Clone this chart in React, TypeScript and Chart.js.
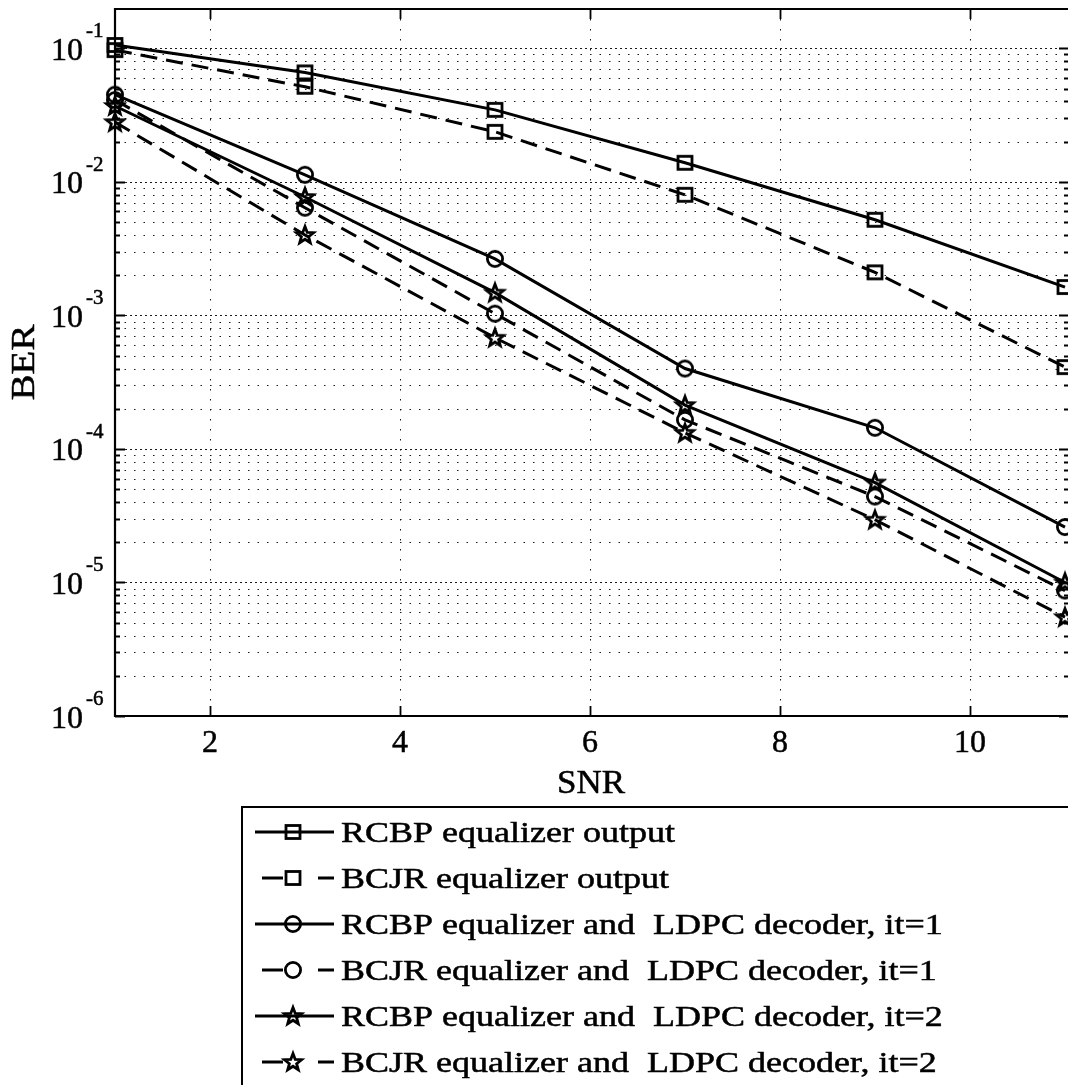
import React, { useEffect, useRef } from 'react';
import { Chart, registerables } from 'chart.js';

Chart.register(...registerables);

// ---- data ----
const snr = [1, 3, 5, 7, 9, 11];
const rcbpOutput = [0.106, 0.066, 0.0346, 0.0139, 0.0052, 0.00163];
const bcjrOutput = [0.097, 0.0515, 0.0237, 0.008, 0.0021, 0.00041];
const rcbpLdpcIt1 = [0.045, 0.0113, 0.00265, 0.0004, 0.000144, 0.000026];
const bcjrLdpcIt1 = [0.041, 0.0064, 0.00103, 0.000165, 0.000044, 0.0000087];
const rcbpLdpcIt2 = [0.037, 0.0077, 0.00148, 0.000213, 0.000056, 0.00001];
const bcjrLdpcIt2 = [0.028, 0.004, 0.00068, 0.000132, 0.0000295, 0.0000055];
const seriesLabels = [
  'RCBP equalizer output',
  'BCJR equalizer output',
  'RCBP equalizer and  LDPC decoder, it=1',
  'BCJR equalizer and  LDPC decoder, it=1',
  'RCBP equalizer and  LDPC decoder, it=2',
  'BCJR equalizer and  LDPC decoder, it=2',
];
const seriesMarkers = ['square', 'square', 'circle', 'circle', 'star', 'star'];
const seriesDashed = [false, true, false, true, false, true];
const xTickValues = [2, 4, 6, 8, 10];
const yDecadeExponents = [-6, -5, -4, -3, -2, -1];
const xAxisTitle = 'SNR';
const yAxisTitle = 'BER';

const SERIF = "'Liberation Serif', 'Times New Roman', 'DejaVu Serif', serif";
const DASH = [17, 9];

function makeMarker(kind: string): HTMLCanvasElement {
  const size = 26;
  const c = document.createElement('canvas');
  c.width = size;
  c.height = size;
  const ctx = c.getContext('2d')!;
  ctx.strokeStyle = '#000';
  ctx.lineWidth = 2.8;
  const cx = size / 2;
  const cy = size / 2;
  if (kind === 'square') {
    ctx.strokeRect(cx - 7, cy - 6.5, 14, 13);
  } else if (kind === 'circle') {
    ctx.beginPath();
    ctx.arc(cx, cy, 7.6, 0, Math.PI * 2);
    ctx.stroke();
  } else {
    ctx.lineJoin = 'miter';
    ctx.lineWidth = 2.8;
    ctx.beginPath();
    for (let i = 0; i < 10; i++) {
      const a = -Math.PI / 2 + (i * Math.PI) / 5;
      const r = i % 2 === 0 ? 9 : 3.8;
      const px = cx + r * Math.cos(a);
      const py = cy + 0.5 + r * Math.sin(a);
      if (i === 0) ctx.moveTo(px, py);
      else ctx.lineTo(px, py);
    }
    ctx.closePath();
    ctx.stroke();
  }
  return c;
}

function boldText(ctx: CanvasRenderingContext2D, text: string, x: number, y: number) {
  ctx.fillText(text, x, y);
  ctx.lineWidth = 0.5;
  ctx.strokeStyle = '#000';
  ctx.strokeText(text, x, y);
}

export default function App() {
  const ref = useRef<HTMLCanvasElement | null>(null);

  useEffect(() => {
    if (!ref.current) return;
    const markers: Record<string, HTMLCanvasElement> = {
      square: makeMarker('square'),
      circle: makeMarker('circle'),
      star: makeMarker('star'),
    };
    const allSeries = [rcbpOutput, bcjrOutput, rcbpLdpcIt1, bcjrLdpcIt1, rcbpLdpcIt2, bcjrLdpcIt2];

    const datasets = allSeries.map((vals, i) => ({
      label: seriesLabels[i],
      data: vals.map((v, j) => ({ x: snr[j], y: v })),
      borderColor: '#000',
      backgroundColor: 'rgba(0,0,0,0)',
      borderWidth: 3,
      borderDash: seriesDashed[i] ? DASH : [],
      pointStyle: markers[seriesMarkers[i]] as any,
      pointRadius: 8,
      tension: 0,
      fill: false,
      clip: false as any,
    }));

    const framePlugin = {
      id: 'matlabFrame',
      beforeDatasetsDraw(chart: any) {
        const { ctx, chartArea: a, scales } = chart;
        const xs = scales.x;
        const ys = scales.y;
        const right = chart.width;
        ctx.save();
        ctx.strokeStyle = '#1a1a1a';
        ctx.lineWidth = 1;
        for (const e of yDecadeExponents) {
          for (let m = 1; m <= 9; m++) {
            const v = m * Math.pow(10, e);
            if (v > ys.max * 1.0001 || v < ys.min * 0.9999) continue;
            const y = Math.round(ys.getPixelForValue(v)) + 0.5;
            ctx.setLineDash(m === 1 ? [2, 3] : [1.5, 8]);
            ctx.beginPath();
            ctx.moveTo(a.left, y);
            ctx.lineTo(right, y);
            ctx.stroke();
          }
        }
        ctx.setLineDash([1.5, 8.5]);
        for (const t of xTickValues) {
          const x = Math.round(xs.getPixelForValue(t)) + 0.5;
          ctx.beginPath();
          ctx.moveTo(x, a.top);
          ctx.lineTo(x, a.bottom);
          ctx.stroke();
        }
        ctx.restore();
      },
      afterDatasetsDraw(chart: any) {
        const { ctx, chartArea: a, scales } = chart;
        const xs = scales.x;
        const ys = scales.y;
        const right = chart.width + 1;
        ctx.save();
        ctx.setLineDash([]);
        ctx.strokeStyle = '#000';
        ctx.lineWidth = 1.8;
        ctx.beginPath();
        for (const e of yDecadeExponents) {
          for (let m = 1; m <= 9; m++) {
            const v = m * Math.pow(10, e);
            if (v > ys.max * 1.0001 || v < ys.min * 0.9999) continue;
            const y = Math.round(ys.getPixelForValue(v)) + 0.5;
            const len = m === 1 ? 10 : 5;
            ctx.moveTo(a.left, y);
            ctx.lineTo(a.left + len, y);
            ctx.moveTo(right, y);
            ctx.lineTo(right - len, y);
          }
        }
        for (const t of xTickValues) {
          const x = Math.round(xs.getPixelForValue(t)) + 0.5;
          ctx.moveTo(x, a.bottom);
          ctx.lineTo(x, a.bottom - 10);
          ctx.moveTo(x, a.top);
          ctx.lineTo(x, a.top + 10);
        }
        ctx.stroke();
        ctx.lineWidth = 2.2;
        ctx.beginPath();
        ctx.moveTo(right + 2, a.top);
        ctx.lineTo(a.left, a.top);
        ctx.lineTo(a.left, a.bottom);
        ctx.lineTo(right + 2, a.bottom);
        ctx.stroke();
        ctx.restore();
      },
      afterDraw(chart: any) {
        const { ctx, chartArea: a, scales } = chart;
        const xs = scales.x;
        const ys = scales.y;
        ctx.save();
        ctx.fillStyle = '#000';
        for (const e of yDecadeExponents) {
          const y = ys.getPixelForValue(Math.pow(10, e));
          ctx.font = `32px ${SERIF}`;
          ctx.textAlign = 'right';
          ctx.textBaseline = 'alphabetic';
          boldText(ctx, '10', 83, y + 11.5);
          ctx.font = `21px ${SERIF}`;
          ctx.textAlign = 'left';
          boldText(ctx, String(e), 86, y - 11);
        }
        ctx.font = `32px ${SERIF}`;
        ctx.textAlign = 'center';
        for (const t of xTickValues) {
          const x = xs.getPixelForValue(t);
          boldText(ctx, String(t), x, a.bottom + 36);
        }
        ctx.save();
        ctx.font = `33px ${SERIF}`;
        ctx.translate(591, 793);
        ctx.scale(1.06, 1);
        boldText(ctx, xAxisTitle, 0, 0);
        ctx.restore();
        ctx.save();
        ctx.font = `33px ${SERIF}`;
        ctx.translate(34, (a.top + a.bottom) / 2);
        ctx.rotate(-Math.PI / 2);
        ctx.scale(1.18, 1);
        ctx.textAlign = 'center';
        boldText(ctx, yAxisTitle, 0, 0);
        ctx.restore();

        // legend
        const bx = 242;
        const by = 807;
        ctx.lineWidth = 2;
        ctx.strokeStyle = '#000';
        ctx.fillStyle = '#fff';
        ctx.fillRect(bx, by, chart.width - bx + 20, chart.height - by + 20);
        ctx.strokeRect(bx, by, chart.width - bx + 20, chart.height - by + 20);
        ctx.fillStyle = '#000';
        chart.data.datasets.forEach((ds: any, i: number) => {
          const y = 832 + i * 46;
          ctx.lineWidth = 3;
          ctx.setLineDash([]);
          ctx.strokeStyle = '#000';
          ctx.beginPath();
          if (seriesDashed[i]) {
            ctx.moveTo(262, y);
            ctx.lineTo(283, y);
            ctx.moveTo(318, y);
            ctx.lineTo(334, y);
          } else {
            ctx.moveTo(255, y);
            ctx.lineTo(334, y);
          }
          ctx.stroke();
          const mk = markers[seriesMarkers[i]];
          ctx.drawImage(mk, 293 - mk.width / 2, y - mk.height / 2);
          ctx.save();
          ctx.font = `30px ${SERIF}`;
          ctx.textAlign = 'left';
          ctx.textBaseline = 'alphabetic';
          ctx.translate(341, y + 10);
          ctx.scale(1.2, 1);
          boldText(ctx, ds.label, 0, 0);
          ctx.restore();
        });
        ctx.restore();
      },
    };

    const chart = new Chart(ref.current, {
      type: 'line',
      data: { datasets: datasets as any },
      options: {
        responsive: false,
        animation: false,
        events: [],
        layout: { autoPadding: false, padding: { left: 115, top: 9, right: 3, bottom: 369 } },
        plugins: {
          legend: { display: false },
          tooltip: { enabled: false },
        },
        scales: {
          x: { type: 'linear', min: 1, max: 11, display: false },
          y: { type: 'logarithmic', min: 1e-6, max: 0.197, display: false },
        },
      },
      plugins: [framePlugin],
    });
    return () => chart.destroy();
  }, []);

  return (
    <div style={{ position: 'absolute', left: 0, top: 0, width: 1068, height: 1085, background: '#fff' }}>
      <canvas ref={ref} width={1068} height={1085} style={{ display: 'block' }} />
    </div>
  );
}
